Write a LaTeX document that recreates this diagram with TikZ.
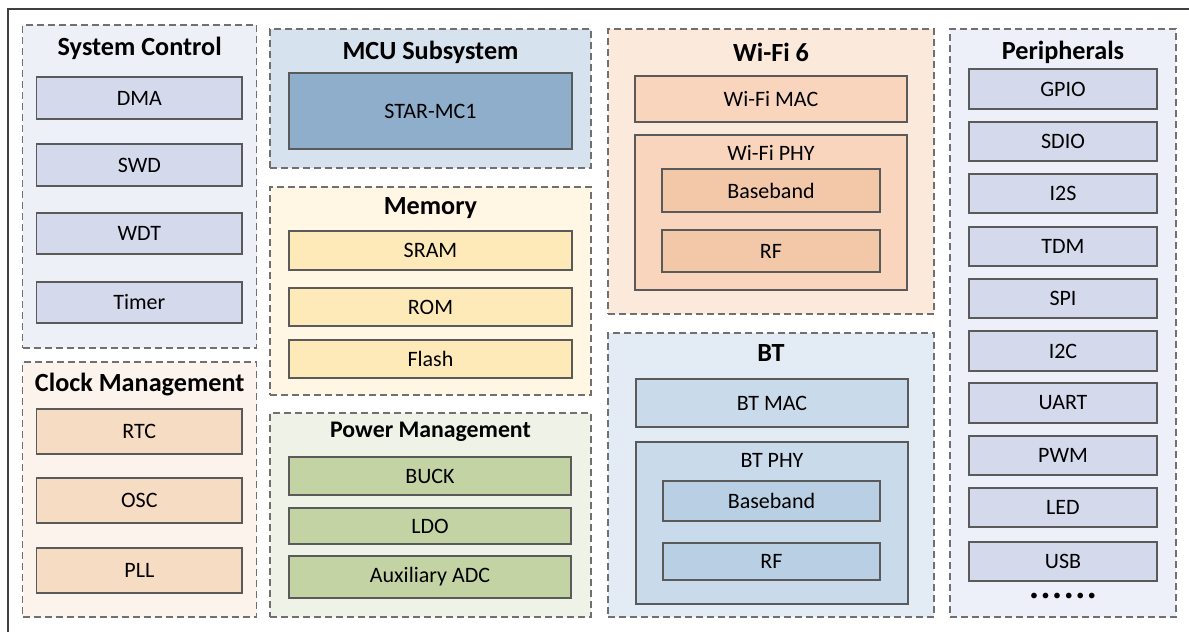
\documentclass[tikz,border=0pt]{standalone}
\usepackage{fontspec}
\setmainfont{Carlito}
\definecolor{sysbg}{HTML}{EEF0F8}
\definecolor{sysbox}{HTML}{D5D9EC}
\definecolor{clkbg}{HTML}{FCF3EC}
\definecolor{clkbox}{HTML}{F7DCC4}
\definecolor{mcubg}{HTML}{D6E3EE}
\definecolor{mcubox}{HTML}{8EAECB}
\definecolor{membg}{HTML}{FFF6E4}
\definecolor{membox}{HTML}{FDEAB8}
\definecolor{pwrbg}{HTML}{EFF2E7}
\definecolor{pwrbox}{HTML}{C4D3A4}
\definecolor{wifibg}{HTML}{FBE9DC}
\definecolor{wifimid}{HTML}{F8D5BC}
\definecolor{wifiin}{HTML}{F3C8A9}
\definecolor{btbg}{HTML}{E3EBF5}
\definecolor{btmid}{HTML}{C9DAEB}
\definecolor{btin}{HTML}{B9CFE4}
\definecolor{perbg}{HTML}{EDF0F8}
\definecolor{perbox}{HTML}{D5D9EC}
\definecolor{edge}{HTML}{5A5A5A}
\definecolor{dashc}{HTML}{707070}
\tikzset{
  grp/.style={draw=dashc, line width=1.3pt, dash pattern=on 7pt off 4pt, rectangle, inner sep=0pt, outer sep=0pt},
  blk/.style={draw=edge, line width=1.2pt, rectangle, inner sep=0pt, outer sep=0pt, font=\fontsize{22}{24}\selectfont, text=black},
  ttl/.style={font=\fontsize{26.2}{30}\selectfont\bfseries, inner sep=0pt},
  sttl/.style={font=\fontsize{23.8}{28}\selectfont\bfseries, inner sep=0pt},
  lbl/.style={font=\fontsize{22}{24}\selectfont, inner sep=0pt},
}
% name, style, x1, y1, x2, y2, text
\newcommand\bx[7]{\node[#2, anchor=north west, minimum width={(#5)-(#3)}, minimum height={(#6)-(#4)}] (#1) at (#3,-#4) {#7};}
\newcommand\dotsp{\hspace{3.6pt}}
\begin{document}
\begin{tikzpicture}[x=1pt,y=1pt]
\useasboundingbox (0,0) rectangle (1189,-632);
\fill[white] (0,0) rectangle (1189,-632);
\coordinate (frTR) at (1189,-9);
\coordinate (frTL) at (8,-9);
\coordinate (frBL) at (8,-632);
\draw[line width=2pt, draw=black!75] (frTR) -- (frTL) -- (frBL);

% System Control
\bx{gsys}{grp, fill=sysbg}{22.7}{25}{256.7}{348}{}
\node[ttl] (tsys) at (139.7,-48) {System Control};
\bx{dma}{blk, fill=sysbox}{36.7}{77}{242}{119}{DMA}
\bx{swd}{blk, fill=sysbox}{36.7}{144}{242}{186}{SWD}
\bx{wdt}{blk, fill=sysbox}{36.7}{213}{242}{254}{WDT}
\bx{tmr}{blk, fill=sysbox}{36.7}{282}{242}{323}{Timer}

% Clock Management
\bx{gclk}{grp, fill=clkbg}{22.7}{362}{256.7}{617}{}
\node[ttl] (tclk) at (139.7,-385) {Clock Management};
\bx{rtc}{blk, fill=clkbox}{36.7}{409}{242}{454}{RTC}
\bx{osc}{blk, fill=clkbox}{36.7}{478}{242}{523}{OSC}
\bx{pll}{blk, fill=clkbox}{36.7}{548}{242}{593}{PLL}

% MCU Subsystem
\bx{gmcu}{grp, fill=mcubg}{270}{29}{591}{168}{}
\node[ttl] (tmcu) at (430.5,-52) {MCU Subsystem};
\bx{star}{blk, fill=mcubox}{289}{73}{572}{149}{STAR-MC1}

% Memory
\bx{gmem}{grp, fill=membg}{270}{187}{591}{395}{}
\node[ttl] (tmem) at (430.5,-208) {Memory};
\bx{sram}{blk, fill=membox}{289}{231}{572}{270}{SRAM}
\bx{rom}{blk, fill=membox}{289}{288}{572}{326}{ROM}
\bx{flash}{blk, fill=membox}{289}{340}{572}{378}{Flash}

% Power Management
\bx{gpwr}{grp, fill=pwrbg}{270}{413}{591}{617}{}
\node[sttl] (tpwr) at (430.5,-432) {Power Management};
\bx{buck}{blk, fill=pwrbox}{289}{457}{571}{495}{BUCK}
\bx{ldo}{blk, fill=pwrbox}{289}{508}{571}{544}{LDO}
\bx{adc}{blk, fill=pwrbox}{289}{556}{571}{598}{Auxiliary ADC}

% Wi-Fi 6
\bx{gwifi}{grp, fill=wifibg}{608}{29}{934}{314}{}
\node[ttl] (twifi) at (771,-52) {Wi-Fi 6};
\bx{wmac}{blk, fill=wifimid}{635}{76}{907}{122}{Wi-Fi MAC}
\bx{wphy}{blk, fill=wifimid}{635}{135}{907}{290}{}
\node[lbl] (twphy) at (771,-153) {Wi-Fi PHY};
\bx{wbb}{blk, fill=wifiin}{662}{169}{880}{212}{Baseband}
\bx{wrf}{blk, fill=wifiin}{662}{230}{880}{272}{RF}

% BT
\bx{gbt}{grp, fill=btbg}{608}{333}{934}{617}{}
\node[ttl] (tbt) at (771,-353) {BT};
\bx{bmac}{blk, fill=btmid}{636}{379}{908}{427}{BT MAC}
\bx{bphy}{blk, fill=btmid}{636}{442}{908}{604}{}
\node[lbl] (tbphy) at (772,-460) {BT PHY};
\bx{bbb}{blk, fill=btin}{663}{481}{880}{521}{Baseband}
\bx{brf}{blk, fill=btin}{663}{543}{880}{580}{RF}

% Peripherals
\bx{gper}{grp, fill=perbg}{950}{29}{1176}{617}{}
\node[ttl] (tper) at (1063,-52) {Peripherals};
\bx{gpio}{blk, fill=perbox}{969}{69}{1157}{109}{GPIO}
\bx{sdio}{blk, fill=perbox}{969}{122}{1157}{161}{SDIO}
\bx{iis}{blk, fill=perbox}{969}{174}{1157}{213}{I2S}
\bx{tdm}{blk, fill=perbox}{969}{227}{1157}{266}{TDM}
\bx{spi}{blk, fill=perbox}{969}{279}{1157}{318}{SPI}
\bx{iic}{blk, fill=perbox}{969}{331}{1157}{371}{I2C}
\bx{uart}{blk, fill=perbox}{969}{383}{1157}{423}{UART}
\bx{pwm}{blk, fill=perbox}{969}{436}{1157}{475}{PWM}
\bx{led}{blk, fill=perbox}{969}{488}{1157}{527}{LED}
\bx{usb}{blk, fill=perbox}{969}{542}{1157}{581}{USB}
\node[font=\fontsize{16}{18}\selectfont, inner sep=0pt] (dots) at (1063,-597) {•\dotsp•\dotsp•\dotsp•\dotsp•\dotsp•};
\end{tikzpicture}
\end{document}
